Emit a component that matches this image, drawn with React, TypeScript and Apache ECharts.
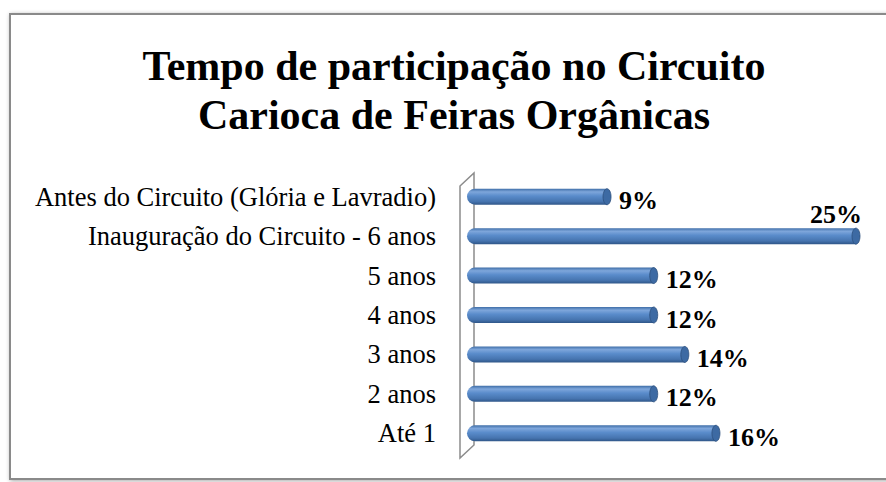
import React, { useEffect, useRef } from "react";
import * as echarts from "echarts";

const titleLines = ["Tempo de participação no Circuito", "Carioca de Feiras Orgânicas"];
const categories = [
  "Antes do Circuito (Glória e Lavradio)",
  "Inauguração do Circuito - 6 anos",
  "5 anos",
  "4 anos",
  "3 anos",
  "2 anos",
  "Até 1",
];
const values = [9, 25, 12, 12, 14, 12, 16];
const labelsAbove = [false, true, false, false, false, false, false];

export default function App() {
  const ref = useRef<HTMLDivElement>(null);
  useEffect(() => {
    if (!ref.current) return;
    const chart = echarts.init(ref.current, null, { renderer: "svg" });
    const serif = "'Liberation Serif', 'Times New Roman', serif";
    const barGrad = new echarts.graphic.LinearGradient(0, 0, 0, 1, [
      { offset: 0, color: "#3f6ea8" },
      { offset: 0.2, color: "#7ea6db" },
      { offset: 0.45, color: "#5a8ccb" },
      { offset: 0.8, color: "#4674af" },
      { offset: 1, color: "#2f5688" },
    ]);
    chart.setOption({
      animation: false,
      backgroundColor: "#ffffff",
      title: {
        text: titleLines.join("\n"),
        left: 449,
        top: 36,
        textAlign: "center",
        textStyle: {
          fontFamily: serif,
          fontWeight: "bold",
          fontSize: 42,
          lineHeight: 49,
          color: "#000",
        },
      },
      graphic: [
        {
          type: "rect",
          z: -10,
          shape: { x: 10, y: 14, width: 900, height: 465 },
          style: {
            fill: "#fff",
            stroke: "#8a8a8a",
            lineWidth: 2,
            shadowBlur: 4,
            shadowColor: "rgba(0,0,0,0.35)",
            shadowOffsetX: 1,
            shadowOffsetY: 1,
          },
        },
        {
          type: "polygon",
          z: -5,
          shape: {
            points: [
              [460, 186],
              [474, 173],
              [474, 445],
              [460, 458],
            ],
          },
          style: { fill: "#ffffff", stroke: "#8c8c8c", lineWidth: 1.5 },
        },
      ],
      grid: { left: 467, right: 30, top: 177, bottom: 29, containLabel: false },
      xAxis: {
        type: "value",
        min: 0,
        max: 25,
        show: false,
      },
      yAxis: {
        type: "category",
        data: categories,
        inverse: true,
        axisLine: { show: false },
        axisTick: { show: false },
        axisLabel: {
          margin: 31,
          fontFamily: serif,
          fontSize: 26.5,
          color: "#000",
        },
      },
      series: [
        {
          type: "bar",
          data: values.map((v, i) => ({
            value: v,
            label: labelsAbove[i]
              ? {
                  position: ["100%", 0],
                  align: "right",
                  verticalAlign: "bottom",
                  offset: [6, -1],
                }
              : undefined,
          })),
          barWidth: 16,
          itemStyle: {
            color: barGrad,
            borderRadius: [8, 0, 0, 8],
          },
          label: {
            show: true,
            position: "right",
            distance: 12,
            offset: [0, 4],
            formatter: "{c}%",
            fontFamily: serif,
            fontWeight: "bold",
            fontSize: 26,
            color: "#000",
          },
        },
        {
          type: "custom",
          data: values.map((v, i) => [v, i]),
          renderItem: (params: any, api: any) => {
            const p = api.coord([api.value(0), api.value(1)]);
            return {
              type: "ellipse",
              shape: { cx: p[0], cy: p[1], rx: 4, ry: 8 },
              style: {
                fill: "#3d6aa3",
                stroke: "#2c4f7c",
                lineWidth: 0.8,
              },
            };
          },
          z: 3,
        },
      ],
    });
    return () => chart.dispose();
  }, []);
  return (
    <div
      ref={ref}
      style={{ position: "fixed", left: 0, top: 0, width: 886, height: 482 }}
    />
  );
}
